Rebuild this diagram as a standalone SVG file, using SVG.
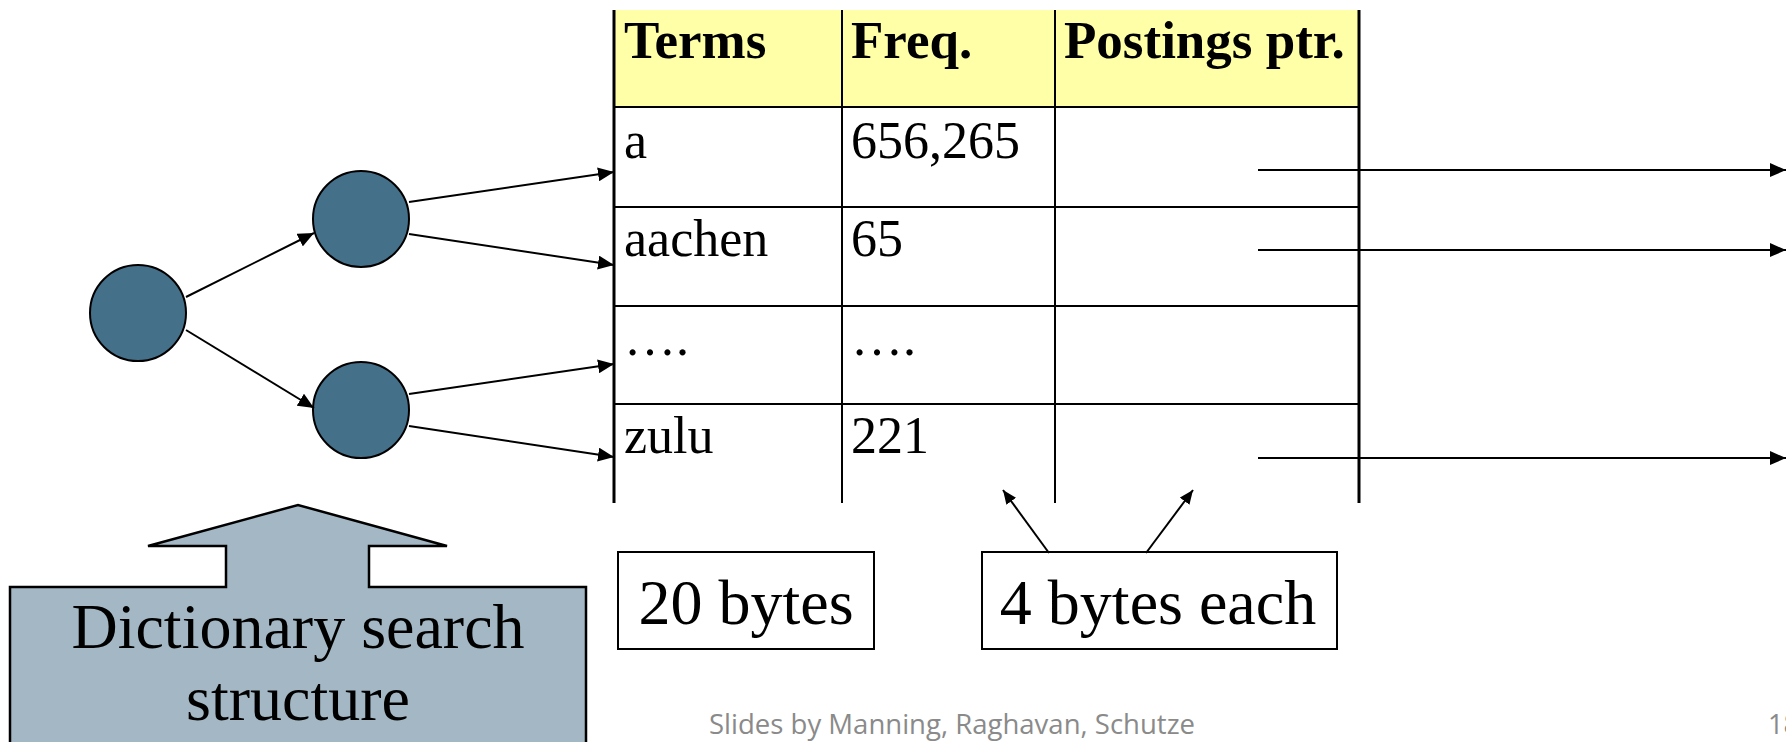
<svg xmlns="http://www.w3.org/2000/svg" width="1786" height="742" viewBox="0 0 1786 742">
  <style>
    .serif { font-family: "Liberation Serif", "Times New Roman", serif; fill: #000; }
    .hdr { font-size: 53px; font-weight: bold; }
    .cell { font-size: 52px; }
    .lbl { font-size: 64px; }
    .conn { stroke: #000; stroke-width: 2; fill: none; }
    .node { fill: #45708a; stroke: #000; stroke-width: 2; }
    .grid { stroke: #000; stroke-width: 2; }
    .outer { stroke: #000; stroke-width: 3; }
    .footer { font-family: "Open Sans", "Liberation Sans", sans-serif; font-size: 27px; fill: #8a8a8a; }
  </style>
  <defs>
    <marker id="ah" markerUnits="userSpaceOnUse" markerWidth="16" markerHeight="14" refX="16" refY="7" orient="auto">
      <path d="M0,0 L16,7 L0,14 Z" fill="#000"/>
    </marker>
    <marker id="ahs" markerUnits="userSpaceOnUse" markerWidth="14" markerHeight="12" refX="14" refY="6" orient="auto">
      <path d="M0,0 L14,6 L0,12 Z" fill="#000"/>
    </marker>
  </defs>

  <!-- Table -->
  <g id="table">
    <rect x="614" y="10" width="745" height="97" fill="#ffffa8"/>
    <line class="grid" x1="614" y1="107" x2="1359" y2="107"/>
    <line class="grid" x1="614" y1="207" x2="1359" y2="207"/>
    <line class="grid" x1="614" y1="306" x2="1359" y2="306"/>
    <line class="grid" x1="614" y1="404" x2="1359" y2="404"/>
    <line class="grid" x1="842" y1="10" x2="842" y2="503"/>
    <line class="grid" x1="1055" y1="10" x2="1055" y2="503"/>
    <line class="outer" x1="614" y1="10" x2="614" y2="503"/>
    <line class="outer" x1="1359" y1="10" x2="1359" y2="503"/>
    <text class="serif hdr" x="624" y="58">Terms</text>
    <text class="serif hdr" x="851" y="58">Freq.</text>
    <text class="serif hdr" x="1064" y="58">Postings ptr.</text>
    <text class="serif cell" x="624" y="158">a</text>
    <text class="serif cell" x="851" y="158">656,265</text>
    <text class="serif cell" x="624" y="256">aachen</text>
    <text class="serif cell" x="851" y="256">65</text>
    <text class="serif cell" x="624" y="355">….</text>
    <text class="serif cell" x="851" y="355">….</text>
    <text class="serif cell" x="624" y="453">zulu</text>
    <text class="serif cell" x="851" y="453">221</text>
  </g>

  <!-- Tree nodes -->
  <g id="node-root"><circle class="node" cx="138" cy="313" r="48"/></g>
  <g id="node-upper"><circle class="node" cx="361" cy="219" r="48"/></g>
  <g id="node-lower"><circle class="node" cx="361" cy="410" r="48"/></g>

  <!-- Labels -->
  <g id="box-20bytes">
    <rect x="618" y="552" width="256" height="97" fill="#fff" stroke="#000" stroke-width="2"/>
    <text class="serif lbl" x="746" y="624" text-anchor="middle">20 bytes</text>
  </g>
  <g id="box-4bytes">
    <rect x="982" y="552" width="355" height="97" fill="#fff" stroke="#000" stroke-width="2"/>
    <text class="serif lbl" x="1158" y="624" text-anchor="middle">4 bytes each</text>
  </g>
  <g id="dict-arrow">
    <path d="M10,587 L226,587 L226,546 L148,546 L298,505 L447,546 L369,546 L369,587 L586,587 L586,746 L10,746 Z" fill="#a3b8c4" stroke="#000" stroke-width="2.5" stroke-linejoin="miter"/>
    <text class="serif lbl" x="298" y="648" text-anchor="middle">Dictionary search</text>
    <text class="serif lbl" x="298" y="720" text-anchor="middle">structure</text>
  </g>

  <!-- Connectors -->
  <g id="connectors">
    <line class="conn" x1="186" y1="297" x2="314" y2="233" marker-end="url(#ah)"/>
    <line class="conn" x1="186" y1="330" x2="314" y2="408" marker-end="url(#ah)"/>
    <line class="conn" x1="409" y1="202" x2="614" y2="172" marker-end="url(#ah)"/>
    <line class="conn" x1="409" y1="234" x2="614" y2="265" marker-end="url(#ah)"/>
    <line class="conn" x1="409" y1="394" x2="614" y2="364" marker-end="url(#ah)"/>
    <line class="conn" x1="409" y1="426" x2="614" y2="457" marker-end="url(#ah)"/>
    <line class="conn" x1="1258" y1="170" x2="1786" y2="170" marker-end="url(#ah)"/>
    <line class="conn" x1="1258" y1="250" x2="1786" y2="250" marker-end="url(#ah)"/>
    <line class="conn" x1="1258" y1="458" x2="1786" y2="458" marker-end="url(#ah)"/>
    <line class="conn" x1="1049" y1="553" x2="1003" y2="490" marker-end="url(#ahs)"/>
    <line class="conn" x1="1146" y1="553" x2="1193" y2="490" marker-end="url(#ahs)"/>
  </g>

  <!-- Footer -->
  <text class="footer" x="709" y="734" textLength="486" lengthAdjust="spacingAndGlyphs">Slides by Manning, Raghavan, Schutze</text>
  <text class="footer" x="1768" y="734">18</text>
</svg>
